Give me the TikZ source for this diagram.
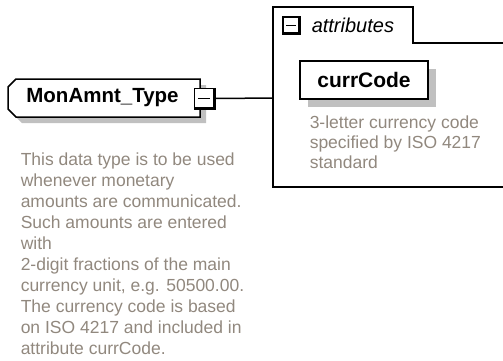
\documentclass[tikz,border=0pt]{standalone}
\usepackage{fontspec}
\setmainfont{Liberation Sans}
\usetikzlibrary{shadows}
\definecolor{desccol}{RGB}{145,136,126}
\definecolor{shadecol}{RGB}{192,192,192}
\begin{document}
\begin{tikzpicture}[x=1pt,y=-1pt,line width=1.5pt,
  labeltext/.style={inner sep=0pt,font=\fontsize{20.5}{24}\selectfont\bfseries},
  minusbox/.style={draw,fill=white,inner sep=0pt,line width=1.3pt},
  codebox/.style={draw,fill=white,inner sep=0pt,minimum width=128pt,minimum height=38pt,
    font=\fontsize{21}{24}\selectfont\bfseries,
    drop shadow={shadow xshift=8pt,shadow yshift=-8pt,fill=shadecol,opacity=1}},
  desctext/.style={inner sep=0pt,align=left,text=desccol,anchor=north west}]
\useasboundingbox (0,0) rectangle (503,360);
% type node
\fill[shadecol] (22,85) -- (206,85) -- (206,123) -- (22,123) -- (14,115) -- (14,93) -- cycle;
\draw[fill=white] (16,79) -- (200,79) -- (200,117) -- (16,117) -- (8,109) -- (8,87) -- cycle;
\node[labeltext] (mon) at (102.5,98) {MonAmnt\_Type};
% minus box of type
\node[minusbox,minimum size=20pt] (mx1) at (204.5,98.5) {};
\draw[line width=3pt] ([xshift=-1pt]mx1.north east) -- ([xshift=-1pt,yshift=1pt]mx1.south east) -- ([yshift=1pt]mx1.south west);
\draw[line width=1.8pt] ([xshift=-6.5pt]mx1.center) -- ([xshift=5.5pt]mx1.center);
% attributes group
\draw (530,43) -- (413,43) -- (413,7) -- (273,7) -- (273,187) -- (530,187);
\coordinate (attrin) at (273,98);
\draw (mx1.east) -- (attrin);
\node[minusbox,minimum size=17pt] (mx2) at (291.5,25.5) {};
\draw[line width=2.6pt] ([xshift=-1pt]mx2.north east) -- ([xshift=-1pt,yshift=1pt]mx2.south east) -- ([yshift=1pt]mx2.south west);
\draw[line width=1.8pt] ([xshift=-5.5pt]mx2.center) -- ([xshift=4.5pt]mx2.center);
\node[inner sep=0pt,anchor=west,font=\fontsize{20}{24}\selectfont\itshape] (attrlbl) at (311,25) {attributes};
% currCode
\node[codebox] (cc) at (364,80) {currCode};
\node[desctext,font=\fontsize{17.5}{20}\selectfont] (ccdesc) at (309,115.5)
  {3-letter currency code\\specified by ISO 4217\\standard};
% type description
\node[desctext,font=\fontsize{17.5}{21}\selectfont] (mondesc) at (20,152.5)
  {This data type is to be used\\whenever monetary\\amounts are communicated.\\Such amounts are entered\\with\\2-digit fractions of the main\\currency unit, e.g. 50500.00.\\The currency code is based\\on ISO 4217 and included in\\attribute currCode.};
\end{tikzpicture}
\end{document}
